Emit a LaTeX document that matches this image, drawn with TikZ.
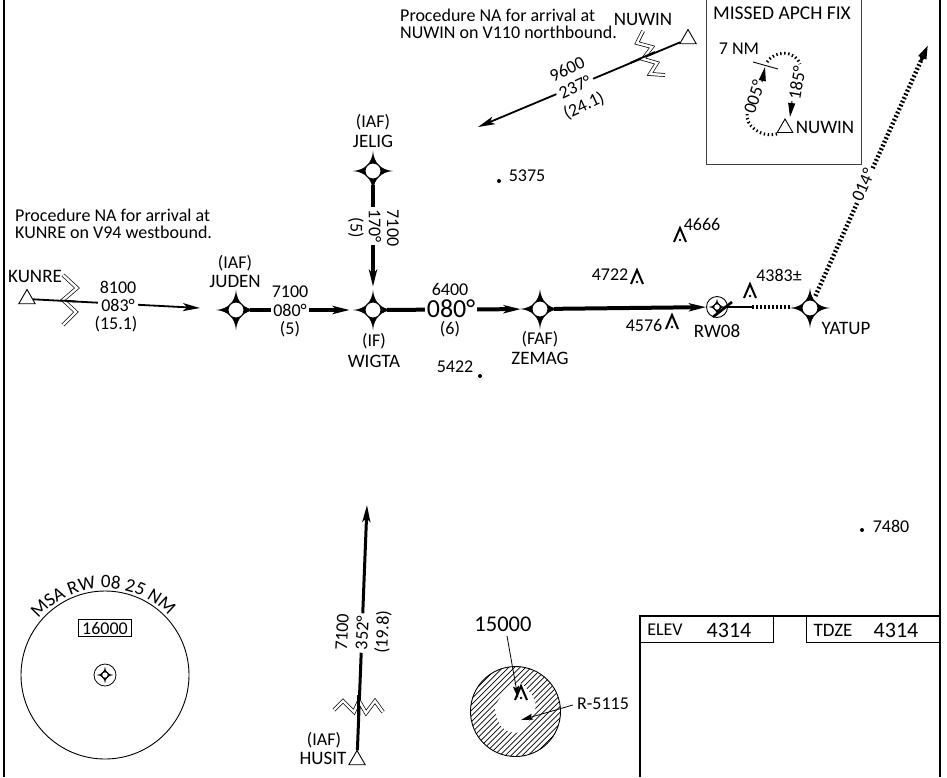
\documentclass[tikz,border=0pt]{standalone}
\usepackage{fontspec}
\setmainfont{Carlito}
\usetikzlibrary{arrows.meta,shapes.geometric,decorations.text,calc}
\tikzset{
 x=1pt,y=-1pt,
 lbl/.style={inner sep=0pt,font=\fontsize{18}{17.5}\selectfont},
 capsl/.style={inner sep=0pt,font=\fontsize{19}{19}\selectfont},
 biglbl/.style={inner sep=0pt,font=\fontsize{22}{22}\selectfont},
 lblw/.style={lbl,fill=white,inner xsep=2pt,inner ysep=1pt},
 wp/.style={circle,inner sep=0pt,minimum size=40pt},
 tri/.style={regular polygon,regular polygon sides=3,draw,fill=white,inner sep=0pt,minimum size=19pt,line width=.9pt},
 heavy/.style={line width=4pt},
 medium/.style={line width=1.8pt},
 dots/.style={line width=4.4pt,dash pattern=on 1.8pt off 2.2pt},
 tip/.style={-{Stealth[length=17pt,width=8pt,inset=4pt]}},
 smalltip/.style={-{Stealth[length=12pt,width=6pt,inset=2pt]}},
 zig/.style={double,double distance=2.4pt,line width=.7pt,miter limit=10},
 wptmark/.pic={
  \fill (20,0) .. controls (8,1) and (1,8) .. (0,20) .. controls (-1,8) and (-8,1) .. (-20,0)
   .. controls (-8,-1) and (-1,-8) .. (0,-20) .. controls (1,-8) and (8,-1) .. (20,0) -- cycle;
  \draw[fill=white,line width=1pt] (0,0) circle (8);
 },
 obst/.pic={
  \draw[line width=2pt,miter limit=10] (-6,7) -- (0,-7) -- (6,7);
  \fill (0,5) circle (1.3);
 },
}
\begin{document}
\begin{tikzpicture}
\useasboundingbox (0,0) rectangle (947,777);
% frame
\coordinate (bl) at (4,777); \coordinate (tl) at (4,0);
\coordinate (br) at (940,777); \coordinate (tr) at (940,0);
\draw[line width=2.6pt] (bl) -- (tl);
\draw[line width=2.6pt] (br) -- (tr);
% waypoints
\node[wp] (jelig) at (373,171) {};
\node[wp] (juden) at (236,310) {};
\node[wp] (wigta) at (373,310) {};
\node[wp] (zemag) at (540,309) {};
\node[wp] (yatup) at (810,308) {};
\node[tri] (kunre) at (27,299) {};
\node[tri] (nuwin) at (688,39) {};
\node[tri] (husit) at (357,760) {};
\node[circle,draw,line width=.9pt,minimum size=21pt,inner sep=0pt] (rw) at (717,307) {};
\coordinate (kend) at (200,308);
\coordinate (nend) at (478,127);
\coordinate (hend) at (367,505);
\coordinate (yend) at (928,45);
% connectors
\draw[medium,tip] (kunre) -- (kend);
\draw[medium,tip] (nuwin) -- (nend);
\draw[heavy,tip,shorten >=3pt,shorten <=-6pt] (juden) -- (wigta);
\draw[heavy,tip,shorten >=3pt,shorten <=-6pt] (jelig) -- (wigta);
\draw[heavy,tip,shorten >=-1pt,shorten <=-6pt] (wigta) -- (zemag);
\draw[heavy,tip,shorten <=-6pt] (zemag) -- (rw);
\draw[tip,line width=3pt] (husit) -- (hend);
\coordinate (dotl) at (752,307);
\coordinate (dotr) at (792,307);
\draw[line width=2.5pt] (rw) -- (dotl);
\draw[dots] (dotl) -- (dotr);
\draw[dots,shorten <=-7pt,shorten >=10pt] (yatup) -- (yend);
\draw[line width=3pt,-{Stealth[length=14pt,width=8pt,inset=0pt]}] ($(yend)!.06!(yatup)$) -- (yend);
% waypoint marks
\foreach \w in {jelig,juden,wigta,zemag,yatup}{\pic at (\w) {wptmark};}
\pic[scale=.42] at (rw) {wptmark};
\draw[line width=2.6pt] (713,317) -- (732,302);
% zigzags
\draw[zig] (63,275) -- (77,288) -- (63,300) -- (76,312) -- (63,325);
\draw[zig] (643,31) -- (637,43) -- (652,47) -- (643,59) -- (657,63) -- (650,74) -- (665,75);
\draw[zig] (334,710) -- (343,701) -- (354,712) -- (359,701) -- (366,713) -- (375,701) -- (383,712);
% redraw tracks across zigzags
\coordinate (k1) at (60,300.5); \coordinate (k2) at (76,301.5);
\draw[medium] (k1) -- (k2);
\coordinate (n1) at (630,63); \coordinate (n2) at (655,52);
\draw[medium] (n1) -- (n2);
\coordinate (h1) at (358,695); \coordinate (h2) at (358,720);
\draw[line width=3pt] (h1) -- (h2);
% labels on tracks
\node[lblw,inner xsep=3pt] (t083) at (118,305) {083°};
\node[lbl] (t8100) at (118,287) {8100};
\node[lbl] (t151) at (116,324) {(15.1)};
\node[lblw] (t080a) at (290,310) {080°};
\node[lbl] (t7100a) at (290,292) {7100};
\node[lbl] (t5a) at (290,329) {(5)};
\node[lbl] (t6400) at (450,289) {6400};
\node[lblw,font=\fontsize{26}{26}\selectfont] (t080b) at (451,309) {080°};
\node[lbl] (t6) at (450,329) {(6)};
\node[lblw,rotate=-90] (t170) at (375,226) {170°};
\node[lbl,rotate=-90] (t7100b) at (393,228) {7100};
\node[lbl,rotate=-90] (t5b) at (356,228) {(5)};
\node[lblw,rotate=87,inner xsep=3pt] (t352) at (362,633) {352°};
\node[lbl,rotate=87] (t7100c) at (342,632) {7100};
\node[lbl,rotate=87] (t198) at (383,632) {(19.8)};
\node[lblw,rotate=25,inner xsep=3pt] (t237) at (575,87) {237°};
\node[lbl,rotate=25] (t9600) at (567,69) {9600};
\node[lbl,rotate=25] (t241) at (584,106) {(24.1)};
\node[lblw,rotate=66] (t014) at (863,185) {014°};
% names
\node[capsl] (n1a) at (35,276) {KUNRE};
\node[lbl] (n2a) at (235,263) {(IAF)};
\node[capsl] (n2b) at (235,281) {JUDEN};
\node[lbl] (n3a) at (373,122) {(IAF)};
\node[capsl] (n3b) at (373,141) {JELIG};
\node[lbl] (n4a) at (374,341) {(IF)};
\node[capsl] (n4b) at (374,361) {WIGTA};
\node[lbl] (n5a) at (540,339) {(FAF)};
\node[capsl] (n5b) at (540,358) {ZEMAG};
\node[capsl] (n6) at (717,331) {RW08};
\node[capsl] (n7) at (846,328) {YATUP};
\node[capsl] (n8) at (643,19) {NUWIN};
\node[lbl] (n9a) at (324,740) {(IAF)};
\node[capsl] (n9b) at (323,758) {HUSIT};
% notes
\node[lbl,anchor=west,align=left] (note1) at (15,224) {Procedure NA for arrival at\\KUNRE on V94 westbound.};
\node[lbl,anchor=west,align=left] (note2) at (400,24) {Procedure NA for arrival at\\NUWIN on V110 northbound.};
% spot elevations
\node[lbl] (e5375) at (527,176) {5375}; \fill (499,181) circle (2);
\node[lbl] (e5422) at (455,367) {5422}; \fill (480,376) circle (2);
\node[lbl] (e7480) at (891,526) {7480}; \fill (862,530) circle (2);
\node[lbl] (e4666) at (702,224) {4666}; \pic at (680,235) {obst};
\node[lbl] (e4722) at (610,275) {4722}; \pic at (637,277) {obst};
\node[lbl] (e4576) at (644,325) {4576}; \pic at (672,322) {obst};
\node[lbl] (e4383) at (779,275) {4383±}; \pic at (750,291) {obst};
% inset
\node[draw,line width=1pt,draw=black!75,minimum width=155pt,minimum height=166pt,inner sep=0pt] (inset) at (783.5,81) {};
\node[capsl,font=\fontsize{19.5}{19}\selectfont] (mf) at (782,13) {MISSED APCH FIX};
\node[lbl] (seven) at (739,49) {7 NM};
\node[tri,minimum size=18pt] (tinset) at (785,128) {};
\node[capsl] (nin) at (825,127) {NUWIN};
\coordinate (tk1) at (753,62); \coordinate (tk2) at (778,69);
\draw[line width=.9pt] (tk1) -- (tk2);
\draw[line width=3pt,dash pattern=on 1.4pt off 2.6pt] (777,134) .. controls (760,138) and (745,125) .. (747,113);
\draw[line width=3pt,dash pattern=on 1.4pt off 2.6pt] (767,62) .. controls (775,50) and (795,50) .. (800,64);
\coordinate (a1) at (762,82); \coordinate (a2) at (765,67);
\draw[line width=1pt,-{Stealth[length=14pt,width=7pt,inset=0pt]}] (a1) -- (a2);
\coordinate (b1) at (792,101); \coordinate (b2) at (790,117);
\draw[line width=1pt,-{Stealth[length=14pt,width=7pt,inset=0pt]}] (b1) -- (b2);
\node[lbl,rotate=72] (l005) at (754,97) {005°};
\node[lbl,rotate=80] (l185) at (797,83) {185°};
% MSA
\node[circle,draw,line width=.9pt,minimum size=168pt,inner sep=0pt] (msa) at (105,675) {};
\node[draw,line width=.9pt,lbl,minimum width=53pt,minimum height=17pt] (m16) at (105,628) {16000};
\node[circle,draw,line width=.8pt,minimum size=22pt,inner sep=0pt] (mc) at (105,675) {};
\pic[scale=.42] at (mc) {wptmark};
\path[decorate,decoration={text along path,text align=center,
  text={|\fontsize{19}{19}\selectfont|MSA RW 08 25 NM}}]
  plot[domain=145:38,samples=40] ({105+87*cos(\x)},{675-87*sin(\x)});
% restricted area
\begin{scope}
\clip (515.5,711.5) circle (45);
\foreach \i in {-64,-60,...,64}{
  \draw[line width=.7pt] ({515.5+\i*1.414-60},{711.5+60}) -- ({515.5+\i*1.414+60},{711.5-60});
}
\fill[white] plot[smooth cycle] coordinates {(495,708) (508,688) (520,683) (533,697) (535,710) (520,732) (503,728)};
\end{scope}
\node[circle,draw,line width=.9pt,minimum size=90pt,inner sep=0pt] (rarea) at (515.5,711.5) {};
\pic at (521,693) {obst};
\node[biglbl,font=\fontsize{22.5}{22}\selectfont] (e15000) at (503,624) {15000};
\coordinate (obtip) at (518,698);
\draw[line width=.8pt,smalltip] (e15000) ++(4,12) -- (obtip);
\node[lbl] (r5115) at (603,704) {R-5115};
\coordinate (rtip) at (521,720);
\draw[line width=.8pt,smalltip] (r5115.west) ++(-4,1) -- (rtip);
% table
\coordinate (ta) at (640,777); \coordinate (tb) at (640,616); \coordinate (tc) at (940,616);
\draw[line width=2.4pt] (ta) -- (tb) -- (tc);
\coordinate (p1) at (773,616); \coordinate (p2) at (773,642); \coordinate (p3) at (640,642);
\coordinate (q1) at (806,616); \coordinate (q2) at (806,642); \coordinate (q3) at (940,642);
\draw[line width=.9pt] (p1) -- (p2) -- (p3);
\draw[line width=.9pt] (q1) -- (q2) -- (q3);
\node[lbl] (el) at (665,630) {ELEV};
\node[biglbl] (elv) at (729,630) {4314};
\node[capsl] (td) at (833,630) {TDZE};
\node[biglbl] (tdv) at (896,630) {4314};
\end{tikzpicture}
\end{document}
